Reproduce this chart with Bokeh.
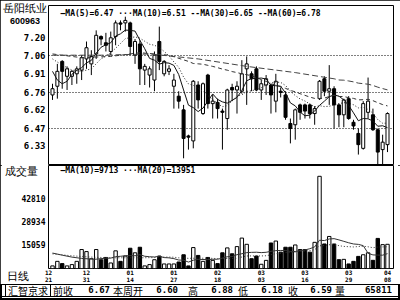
import numpy as np
import pandas as pd
from bokeh.plotting import figure
from bokeh.models import (ColumnDataSource, Range1d, FixedTicker, Label, Div, Spacer,
                          NumeralTickFormatter, CustomJSTickFormatter)
from bokeh.layouts import column
from bokeh.embed import file_html
from bokeh.resources import INLINE

# ---------------- data ----------------
stock_name = "岳阳纸业"
stock_code = "600963"

opens = [6.74, 6.81, 7.01, 6.89, 6.89, 6.91, 6.94, 7.03, 6.99, 7.07,
         7.21, 7.16, 7.09, 7.21, 7.32, 7.32, 7.32, 7.06, 7.15, 6.94,
         6.90, 6.86, 7.17, 6.91, 6.93, 6.81, 6.73, 6.62, 6.41, 6.37,
         6.82, 6.59, 6.90, 6.67, 6.68, 6.61, 6.55, 6.80, 6.78, 6.77,
         6.95, 6.91, 6.95, 6.78, 6.82, 6.82, 6.69, 6.77, 6.74, 6.51,
         6.50, 6.66, 6.66, 6.66, 6.59, 6.71, 6.87, 6.77, 6.79, 6.66,
         6.58, 6.71, 6.52, 6.43, 6.31, 6.60, 6.58, 6.46, 6.30, 6.34]
highs = [6.83, 6.99, 7.02, 6.97, 6.94, 6.97, 7.06, 7.17, 7.10, 7.26,
         7.22, 7.24, 7.25, 7.34, 7.34, 7.37, 7.33, 7.19, 7.18, 6.99,
         6.97, 7.09, 7.29, 7.02, 6.98, 6.91, 6.77, 6.66, 6.42, 6.86,
         6.85, 6.84, 6.91, 6.74, 6.71, 6.63, 6.79, 6.83, 6.85, 7.02,
         7.05, 6.93, 6.97, 6.86, 6.90, 6.83, 6.91, 6.80, 6.77, 6.55,
         6.63, 6.67, 6.67, 6.67, 6.65, 6.86, 6.89, 6.98, 6.81, 6.67,
         6.71, 6.73, 6.54, 6.47, 6.69, 6.88, 6.63, 6.47, 6.42, 6.60]
lows = [6.70, 6.71, 6.79, 6.78, 6.82, 6.83, 6.86, 6.95, 6.90, 7.03,
        7.14, 7.09, 7.06, 7.14, 7.26, 7.25, 7.06, 6.99, 6.82, 6.82,
        6.80, 6.77, 6.94, 6.89, 6.90, 6.63, 6.63, 6.23, 6.30, 6.31,
        6.63, 6.58, 6.63, 6.55, 6.55, 6.30, 6.46, 6.69, 6.59, 6.75,
        6.66, 6.77, 6.77, 6.70, 6.74, 6.59, 6.60, 6.72, 6.54, 6.35,
        6.38, 6.54, 6.55, 6.55, 6.50, 6.70, 6.73, 6.66, 6.47, 6.48,
        6.48, 6.54, 6.46, 6.26, 6.30, 6.55, 6.45, 6.18, 6.18, 6.28]
closes = [6.79, 6.93, 6.93, 6.95, 6.93, 6.95, 7.04, 7.12, 7.05, 7.22,
          7.19, 7.14, 7.20, 7.32, 7.31, 7.34, 7.13, 7.17, 6.95, 6.97,
          6.95, 7.06, 7.01, 7.01, 6.95, 6.86, 6.69, 6.39, 6.40, 6.85,
          6.70, 6.83, 6.67, 6.69, 6.63, 6.60, 6.78, 6.78, 6.81, 6.91,
          6.99, 6.87, 6.78, 6.83, 6.87, 6.74, 6.85, 6.76, 6.56, 6.47,
          6.62, 6.60, 6.61, 6.59, 6.63, 6.85, 6.77, 6.79, 6.66, 6.58,
          6.70, 6.55, 6.49, 6.34, 6.67, 6.69, 6.46, 6.28, 6.36, 6.59]
volumes = [1600, 4400, 3000, 1600, 2400, 4400, 11660, 10400, 6000, 11660,
           5400, 6800, 3400, 10860, 4400, 7660, 12470, 9650, 13070, 1600,
           2400, 5400, 7660, 2800, 2800, 2800, 4000, 8450, 1600, 12870,
           8040, 4400, 6800, 5000, 3000, 9650, 12670, 9050, 13470, 18700,
           14880, 6030, 7660, 2600, 5000, 15690, 16890, 10050, 13070, 13070,
           14480, 11660, 11660, 10050, 16090, 56700, 15080, 19700, 15080, 5430,
           5630, 2800, 4400, 7440, 8450, 9650, 5030, 18500, 14680, 14880]

ma5_head_idx = [0, 1, 2, 3]
ma5_head = [6.93, 6.86, 6.83, 6.85]
ma10_head_idx = [0, 2, 4, 6, 8]
ma10_head = [7.03, 6.98, 6.94, 6.93, 6.95]
ma30_head_idx = [0, 6, 12, 18, 24, 28]
ma30_head = [7.07, 7.04, 7.05, 7.08, 7.06, 7.01]
ma60_head_idx = [0, 10, 20, 30, 40, 50, 58]
ma60_head = [7.06, 7.06, 7.07, 7.03, 6.97, 6.92, 6.87]
vma10_head_idx = [0, 2, 4, 6, 8]
vma10_head = [9500, 8200, 7000, 6200, 5800]
vma20_head_idx = [0, 4, 8, 12, 16, 18]
vma20_head = [9000, 7800, 7000, 6600, 6600, 6600]

price_ticks = [7.20, 7.06, 6.91, 6.76, 6.62, 6.47, 6.33]
price_grid = [7.06, 6.76, 6.47]
vol_ticks = [15059, 28934, 42810]
date_index = [-1, 7, 16, 25, 34, 43, 52, 61, 69]
date_labels = ["12\n21", "12\n31", "01\n14", "01\n27", "02\n18",
               "03\n03", "03\n16", "03\n29", "04\n08"]
price_legend = "—MA(5)=6.47 ···MA(10)=6.51 --MA(30)=6.65 --MA(60)=6.78"
vol_legend = "—MA(10)=9713 ···MA(20)=13951"
info_labels = ["前收", "本周开", "高", "低", "收", "量"]
info_values = ["6.67", "6.60", "6.88", "6.18", "6.59", "65811"]
info_box = "汇智京求"
vol_title = "成交量"
period_label = "日线"

# ---------------- layout constants (pixels) ----------------
MONO = "DejaVu Sans Mono"
CJK = "Noto Sans CJK SC"
FRAME_L, FRAME_R = 48, 393
BAR0_PX, BAR_PX = 52.0, 4.855
X0 = (FRAME_L - BAR0_PX) / BAR_PX
X1 = (FRAME_R - BAR0_PX) / BAR_PX

n = len(closes)
idx = np.arange(n)
o = np.array(opens); h = np.array(highs); l = np.array(lows); c = np.array(closes)
vol = np.array(volumes, dtype=float)
up = c >= o


def ma_line(vals, win, head_idx, head_vals):
    s = pd.Series(vals, dtype=float).rolling(win).mean()
    for i, v in zip(head_idx, head_vals):
        if np.isnan(s.iloc[i]):
            s.iloc[i] = v
    s = s.dropna()
    return s.index.values, s.values


def style_common(fig):
    fig.background_fill_color = "white"
    fig.border_fill_color = "white"
    fig.outline_line_color = "black"
    fig.outline_line_width = 1
    fig.xgrid.visible = False
    fig.ygrid.visible = False


def style_axis(ax, size):
    ax.axis_line_color = None
    ax.major_tick_line_color = None
    ax.minor_tick_line_color = None
    ax.major_tick_out = 0
    ax.major_tick_in = 0
    ax.minor_tick_out = 0
    ax.minor_tick_in = 0
    ax.axis_label_standoff = 0
    ax.major_label_text_font = MONO
    ax.major_label_text_font_style = "bold"
    ax.major_label_text_font_size = size
    ax.major_label_text_color = "black"
    ax.major_label_standoff = 3


def overlay_div(html, left, top, w, h, font=CJK, size="11px", bold=False, extra=""):
    css = (":host { position: absolute !important; left: %dpx !important; top: %dpx !important;"
           " z-index: 20 !important; margin: 0 !important; padding: 0 !important;"
           " font-family: '%s'; font-size: %s; font-weight: %s; line-height: 1;"
           " color: black; white-space: nowrap; overflow: visible !important; %s }"
           % (left, top, font, size, "bold" if bold else "normal", extra))
    return Div(text=html, width=w, height=h, stylesheets=[css])


# ---------------- price panel ----------------
p = figure(width=400, height=165, x_range=Range1d(X0, X1), y_range=Range1d(6.172, 7.460),
           output_backend="svg", toolbar_location=None, x_axis_location=None,
           min_border_left=FRAME_L, min_border_right=400 - FRAME_R, min_border_top=5,
           min_border_bottom=0)
style_common(p)
p.ygrid.visible = True
p.ygrid.ticker = FixedTicker(ticks=price_grid)
p.ygrid.grid_line_color = "black"
p.ygrid.grid_line_dash = "1 2"
p.ygrid.grid_line_width = 1

ax = p.yaxis[0]
ax.ticker = FixedTicker(ticks=price_ticks)
ax.formatter = NumeralTickFormatter(format="0.00")
style_axis(ax, "9px")

p.segment(x0=idx, y0=l, x1=idx, y1=h, line_color="black", line_width=1)
src_up = ColumnDataSource(dict(x=idx[up], b=o[up], t=c[up]))
src_dn = ColumnDataSource(dict(x=idx[~up], b=c[~up], t=o[~up]))
p.vbar(x="x", bottom="b", top="t", width=0.62, source=src_up,
       fill_color="white", line_color="black", line_width=1)
p.vbar(x="x", bottom="b", top="t", width=0.62, source=src_dn,
       fill_color="black", line_color="black", line_width=1)

for win, hi, hv, dash, col in [(5, ma5_head_idx, ma5_head, "solid", "#111111"),
                               (10, ma10_head_idx, ma10_head, "1 2", "#222222"),
                               (30, ma30_head_idx, ma30_head, "4 3", "#333333"),
                               (60, ma60_head_idx, ma60_head, "6 3", "#444444")]:
    xs, ys = ma_line(closes, win, hi, hv)
    p.line(xs, ys, line_color=col, line_width=1, line_dash=dash)

p.add_layout(Label(x=12, y=152, x_units="screen", y_units="screen", text=price_legend,
                   text_font=MONO, text_font_size="8px", text_font_style="bold",
                   text_baseline="middle", text_color="black"))

# ---------------- volume panel (with the date axis below) ----------------
v = figure(width=400, height=120, x_range=p.x_range, y_range=Range1d(0, 63345),
           output_backend="svg", toolbar_location=None,
           min_border_left=FRAME_L, min_border_right=400 - FRAME_R, min_border_top=0,
           min_border_bottom=15)
style_common(v)
vy = v.yaxis[0]
vy.ticker = FixedTicker(ticks=vol_ticks)
vy.formatter = NumeralTickFormatter(format="0")
style_axis(vy, "8px")

date_pos = [max(float(i), X0 + 0.02) for i in date_index]
vx = v.xaxis[0]
vx.ticker = FixedTicker(ticks=date_pos)
vx.formatter = CustomJSTickFormatter(args=dict(pos=date_pos, lab=date_labels), code="""
    for (let k = 0; k < pos.length; k++) { if (Math.abs(pos[k] - tick) < 1e-6) return lab[k]; }
    return "";
""")
style_axis(vx, "6px")
vx.major_label_standoff = 0
vx.major_label_text_line_height = 1.0

vsrc_up = ColumnDataSource(dict(x=idx[up], t=vol[up]))
vsrc_dn = ColumnDataSource(dict(x=idx[~up], t=vol[~up]))
v.vbar(x="x", bottom=0, top="t", width=0.7, source=vsrc_up,
       fill_color="white", line_color="black", line_width=1)
v.vbar(x="x", bottom=0, top="t", width=0.7, source=vsrc_dn,
       fill_color="black", line_color="black", line_width=1)
for win, hi, hv, dash, col in [(10, vma10_head_idx, vma10_head, "solid", "#333333"),
                               (20, vma20_head_idx, vma20_head, "1 2", "#333333")]:
    xs, ys = ma_line(volumes, win, hi, hv)
    v.line(xs, ys, line_color=col, line_width=1, line_dash=dash)

v.add_layout(Label(x=12, y=98, x_units="screen", y_units="screen", text=vol_legend,
                   text_font=MONO, text_font_size="8px", text_font_style="bold",
                   text_baseline="middle", text_color="black"))

# ---------------- captions outside the frames (HTML text) ----------------
d_name = overlay_div(stock_name, 3, 3, 46, 13)
d_code = overlay_div(stock_code, 10, 17, 40, 11, font=MONO, size="9px", bold=True)
d_vol = overlay_div(vol_title, 5, 166, 40, 13)
d_period = overlay_div(period_label, 7, 271, 30, 13)

label_x = [53, 113, 188, 238, 288, 335]
value_x = [110, 178, 233, 283, 332, 392]
spans = ['<span style="position:absolute;left:5px;top:-1px;width:46px;height:13px;'
         'border:1px solid black;box-sizing:border-box;"></span>',
         '<span style="position:absolute;left:8px;top:0px;font-family:\'%s\';font-size:10px;'
         'line-height:11px;font-weight:normal;">%s</span>' % (CJK, info_box)]
for t, x in zip(info_labels, label_x):
    spans.append('<span style="position:absolute;left:%dpx;top:0px;font-family:\'%s\';'
                 'font-size:10px;line-height:11px;font-weight:normal;">%s</span>' % (x, CJK, t))
for t, x in zip(info_values, value_x):
    spans.append('<span style="position:absolute;right:%dpx;top:0px;font-family:\'%s\';'
                 'font-size:9px;line-height:11px;font-weight:bold;">%s</span>' % (400 - x, MONO, t))
d_info = overlay_div("".join(spans), 0, 284, 400, 13,
                     extra="border-top: 1px solid black; border-bottom: 1px solid black;"
                           " box-sizing: border-box; width: 400px !important; height: 13px !important;")

layout = column(p, v, Spacer(width=400, height=15), d_name, d_code, d_vol, d_period, d_info,
                spacing=0,
                styles={"outline": "2px solid black", "outline-offset": "-2px",
                        "position": "relative"})

open("out.html", "w").write(file_html(layout, INLINE))
